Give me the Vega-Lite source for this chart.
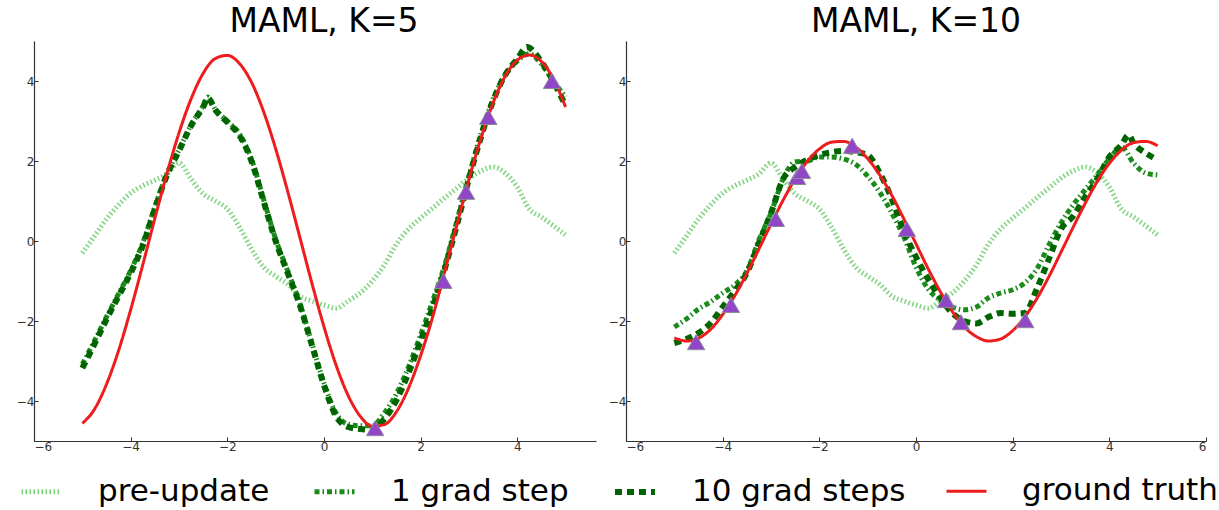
{
  "$schema": "https://vega.github.io/schema/vega-lite/v6.json",
  "background": "white",
  "padding": {"left": 16, "top": 6, "right": 8, "bottom": 2},
  "config": {
    "font": "DejaVu Sans",
    "view": {"stroke": null},
    "axis": {"grid": false, "domainColor": "#333333", "domainWidth": 1.2, "tickColor": "#333333", "labelColor": "#333333", "labelFontSize": 12, "labelFont": "DejaVu Sans", "tickSize": -4, "labelPadding": 4, "title": null},
    "title": {"fontSize": 33, "fontWeight": "normal", "font": "DejaVu Sans", "color": "black", "offset": 2},
    "legend": {"orient": "none", "legendX": -15, "legendY": 428, "direction": "horizontal", "title": null, "labelFontSize": 31, "labelFont": "DejaVu Sans", "labelColor": "black", "labelLimit": 400, "symbolSize": 1600, "labelOffset": 34, "columnPadding": 34}
  },
  "datasets": {
    "curves": [
      {"p":"both","s":"pre-update","x":-5,"y":-0.30},{"p":"both","s":"pre-update","x":-4.75,"y":0.12},{"p":"both","s":"pre-update","x":-4.5,"y":0.55},{"p":"both","s":"pre-update","x":-4.25,"y":0.90},{"p":"both","s":"pre-update","x":-4,"y":1.20},{"p":"both","s":"pre-update","x":-3.75,"y":1.38},{"p":"both","s":"pre-update","x":-3.5,"y":1.52},{"p":"both","s":"pre-update","x":-3.25,"y":1.68},{"p":"both","s":"pre-update","x":-3,"y":1.95},{"p":"both","s":"pre-update","x":-2.75,"y":1.55},{"p":"both","s":"pre-update","x":-2.5,"y":1.18},{"p":"both","s":"pre-update","x":-2.25,"y":1.0},{"p":"both","s":"pre-update","x":-2,"y":0.8},{"p":"both","s":"pre-update","x":-1.75,"y":0.35},{"p":"both","s":"pre-update","x":-1.5,"y":-0.2},{"p":"both","s":"pre-update","x":-1.25,"y":-0.65},{"p":"both","s":"pre-update","x":-1,"y":-0.88},{"p":"both","s":"pre-update","x":-0.75,"y":-1.08},{"p":"both","s":"pre-update","x":-0.5,"y":-1.38},{"p":"both","s":"pre-update","x":-0.25,"y":-1.5},{"p":"both","s":"pre-update","x":0,"y":-1.6},{"p":"both","s":"pre-update","x":0.25,"y":-1.68},{"p":"both","s":"pre-update","x":0.5,"y":-1.5},{"p":"both","s":"pre-update","x":0.75,"y":-1.3},{"p":"both","s":"pre-update","x":1,"y":-1.0},{"p":"both","s":"pre-update","x":1.25,"y":-0.6},{"p":"both","s":"pre-update","x":1.5,"y":-0.08},{"p":"both","s":"pre-update","x":1.75,"y":0.3},{"p":"both","s":"pre-update","x":2,"y":0.57},{"p":"both","s":"pre-update","x":2.25,"y":0.82},{"p":"both","s":"pre-update","x":2.5,"y":1.08},{"p":"both","s":"pre-update","x":2.75,"y":1.32},{"p":"both","s":"pre-update","x":3,"y":1.57},{"p":"both","s":"pre-update","x":3.25,"y":1.75},{"p":"both","s":"pre-update","x":3.5,"y":1.85},{"p":"both","s":"pre-update","x":3.75,"y":1.70},{"p":"both","s":"pre-update","x":4,"y":1.35},{"p":"both","s":"pre-update","x":4.25,"y":0.80},{"p":"both","s":"pre-update","x":4.5,"y":0.60},{"p":"both","s":"pre-update","x":4.75,"y":0.38},{"p":"both","s":"pre-update","x":5,"y":0.15},

      {"p":"K5","s":"1 grad step","x":-5,"y":-3.08},{"p":"K5","s":"1 grad step","x":-4.75,"y":-2.5},{"p":"K5","s":"1 grad step","x":-4.5,"y":-1.9},{"p":"K5","s":"1 grad step","x":-4.25,"y":-1.32},{"p":"K5","s":"1 grad step","x":-4,"y":-0.74},{"p":"K5","s":"1 grad step","x":-3.75,"y":-0.05},{"p":"K5","s":"1 grad step","x":-3.5,"y":0.85},{"p":"K5","s":"1 grad step","x":-3.25,"y":1.68},{"p":"K5","s":"1 grad step","x":-3,"y":2.28},{"p":"K5","s":"1 grad step","x":-2.75,"y":2.9},{"p":"K5","s":"1 grad step","x":-2.5,"y":3.38},{"p":"K5","s":"1 grad step","x":-2.4,"y":3.6},{"p":"K5","s":"1 grad step","x":-2.25,"y":3.3},{"p":"K5","s":"1 grad step","x":-2,"y":3.0},{"p":"K5","s":"1 grad step","x":-1.75,"y":2.68},{"p":"K5","s":"1 grad step","x":-1.5,"y":2.05},{"p":"K5","s":"1 grad step","x":-1.25,"y":1.05},{"p":"K5","s":"1 grad step","x":-1,"y":0.05},{"p":"K5","s":"1 grad step","x":-0.75,"y":-0.75},{"p":"K5","s":"1 grad step","x":-0.5,"y":-1.55},{"p":"K5","s":"1 grad step","x":-0.25,"y":-2.55},{"p":"K5","s":"1 grad step","x":0,"y":-3.55},{"p":"K5","s":"1 grad step","x":0.25,"y":-4.3},{"p":"K5","s":"1 grad step","x":0.5,"y":-4.58},{"p":"K5","s":"1 grad step","x":0.75,"y":-4.62},{"p":"K5","s":"1 grad step","x":1,"y":-4.62},{"p":"K5","s":"1 grad step","x":1.25,"y":-4.3},{"p":"K5","s":"1 grad step","x":1.5,"y":-3.82},{"p":"K5","s":"1 grad step","x":1.75,"y":-3.15},{"p":"K5","s":"1 grad step","x":2,"y":-2.35},{"p":"K5","s":"1 grad step","x":2.25,"y":-1.5},{"p":"K5","s":"1 grad step","x":2.5,"y":-0.6},{"p":"K5","s":"1 grad step","x":2.75,"y":0.5},{"p":"K5","s":"1 grad step","x":3,"y":1.62},{"p":"K5","s":"1 grad step","x":3.25,"y":2.68},{"p":"K5","s":"1 grad step","x":3.5,"y":3.55},{"p":"K5","s":"1 grad step","x":3.75,"y":4.15},{"p":"K5","s":"1 grad step","x":4,"y":4.5},{"p":"K5","s":"1 grad step","x":4.25,"y":4.68},{"p":"K5","s":"1 grad step","x":4.5,"y":4.42},{"p":"K5","s":"1 grad step","x":4.75,"y":4.0},{"p":"K5","s":"1 grad step","x":5,"y":3.6},

      {"p":"K5","s":"10 grad steps","x":-5,"y":-3.18},{"p":"K5","s":"10 grad steps","x":-4.75,"y":-2.58},{"p":"K5","s":"10 grad steps","x":-4.5,"y":-1.96},{"p":"K5","s":"10 grad steps","x":-4.25,"y":-1.38},{"p":"K5","s":"10 grad steps","x":-4,"y":-0.8},{"p":"K5","s":"10 grad steps","x":-3.75,"y":-0.12},{"p":"K5","s":"10 grad steps","x":-3.5,"y":0.8},{"p":"K5","s":"10 grad steps","x":-3.25,"y":1.64},{"p":"K5","s":"10 grad steps","x":-3,"y":2.25},{"p":"K5","s":"10 grad steps","x":-2.75,"y":2.88},{"p":"K5","s":"10 grad steps","x":-2.5,"y":3.35},{"p":"K5","s":"10 grad steps","x":-2.4,"y":3.57},{"p":"K5","s":"10 grad steps","x":-2.25,"y":3.28},{"p":"K5","s":"10 grad steps","x":-2,"y":2.97},{"p":"K5","s":"10 grad steps","x":-1.75,"y":2.64},{"p":"K5","s":"10 grad steps","x":-1.5,"y":2.0},{"p":"K5","s":"10 grad steps","x":-1.25,"y":1.0},{"p":"K5","s":"10 grad steps","x":-1,"y":0.0},{"p":"K5","s":"10 grad steps","x":-0.75,"y":-0.8},{"p":"K5","s":"10 grad steps","x":-0.5,"y":-1.6},{"p":"K5","s":"10 grad steps","x":-0.25,"y":-2.6},{"p":"K5","s":"10 grad steps","x":0,"y":-3.6},{"p":"K5","s":"10 grad steps","x":0.25,"y":-4.38},{"p":"K5","s":"10 grad steps","x":0.5,"y":-4.65},{"p":"K5","s":"10 grad steps","x":0.75,"y":-4.7},{"p":"K5","s":"10 grad steps","x":1,"y":-4.72},{"p":"K5","s":"10 grad steps","x":1.25,"y":-4.45},{"p":"K5","s":"10 grad steps","x":1.5,"y":-3.98},{"p":"K5","s":"10 grad steps","x":1.75,"y":-3.3},{"p":"K5","s":"10 grad steps","x":2,"y":-2.5},{"p":"K5","s":"10 grad steps","x":2.25,"y":-1.65},{"p":"K5","s":"10 grad steps","x":2.5,"y":-0.7},{"p":"K5","s":"10 grad steps","x":2.75,"y":0.4},{"p":"K5","s":"10 grad steps","x":3,"y":1.55},{"p":"K5","s":"10 grad steps","x":3.25,"y":2.6},{"p":"K5","s":"10 grad steps","x":3.5,"y":3.5},{"p":"K5","s":"10 grad steps","x":3.75,"y":4.15},{"p":"K5","s":"10 grad steps","x":4,"y":4.55},{"p":"K5","s":"10 grad steps","x":4.2,"y":4.85},{"p":"K5","s":"10 grad steps","x":4.5,"y":4.48},{"p":"K5","s":"10 grad steps","x":4.75,"y":3.98},{"p":"K5","s":"10 grad steps","x":5,"y":3.38},

      {"p":"K5","s":"ground truth","x":-5,"y":-4.56},{"p":"K5","s":"ground truth","x":-4.75,"y":-4.21},{"p":"K5","s":"ground truth","x":-4.5,"y":-3.58},{"p":"K5","s":"ground truth","x":-4.25,"y":-2.74},{"p":"K5","s":"ground truth","x":-4,"y":-1.72},{"p":"K5","s":"ground truth","x":-3.75,"y":-0.60},{"p":"K5","s":"ground truth","x":-3.5,"y":0.56},{"p":"K5","s":"ground truth","x":-3.25,"y":1.68},{"p":"K5","s":"ground truth","x":-3,"y":2.70},{"p":"K5","s":"ground truth","x":-2.75,"y":3.55},{"p":"K5","s":"ground truth","x":-2.5,"y":4.19},{"p":"K5","s":"ground truth","x":-2.25,"y":4.56},{"p":"K5","s":"ground truth","x":-2,"y":4.64},{"p":"K5","s":"ground truth","x":-1.75,"y":4.44},{"p":"K5","s":"ground truth","x":-1.5,"y":3.97},{"p":"K5","s":"ground truth","x":-1.25,"y":3.24},{"p":"K5","s":"ground truth","x":-1,"y":2.31},{"p":"K5","s":"ground truth","x":-0.75,"y":1.24},{"p":"K5","s":"ground truth","x":-0.5,"y":0.10},{"p":"K5","s":"ground truth","x":-0.25,"y":-1.05},{"p":"K5","s":"ground truth","x":0,"y":-2.14},{"p":"K5","s":"ground truth","x":0.25,"y":-3.10},{"p":"K5","s":"ground truth","x":0.5,"y":-3.86},{"p":"K5","s":"ground truth","x":0.75,"y":-4.38},{"p":"K5","s":"ground truth","x":1,"y":-4.63},{"p":"K5","s":"ground truth","x":1.25,"y":-4.59},{"p":"K5","s":"ground truth","x":1.5,"y":-4.27},{"p":"K5","s":"ground truth","x":1.75,"y":-3.68},{"p":"K5","s":"ground truth","x":2,"y":-2.87},{"p":"K5","s":"ground truth","x":2.25,"y":-1.90},{"p":"K5","s":"ground truth","x":2.5,"y":-0.76},{"p":"K5","s":"ground truth","x":2.75,"y":0.40},{"p":"K5","s":"ground truth","x":3,"y":1.54},{"p":"K5","s":"ground truth","x":3.25,"y":2.57},{"p":"K5","s":"ground truth","x":3.5,"y":3.45},{"p":"K5","s":"ground truth","x":3.75,"y":4.12},{"p":"K5","s":"ground truth","x":4,"y":4.52},{"p":"K5","s":"ground truth","x":4.25,"y":4.65},{"p":"K5","s":"ground truth","x":4.5,"y":4.49},{"p":"K5","s":"ground truth","x":4.75,"y":4.05},{"p":"K5","s":"ground truth","x":5,"y":3.35},

      {"p":"K10","s":"1 grad step","x":-5,"y":-2.15},{"p":"K10","s":"1 grad step","x":-4.75,"y":-1.95},{"p":"K10","s":"1 grad step","x":-4.5,"y":-1.70},{"p":"K10","s":"1 grad step","x":-4.25,"y":-1.52},{"p":"K10","s":"1 grad step","x":-4,"y":-1.30},{"p":"K10","s":"1 grad step","x":-3.75,"y":-1.10},{"p":"K10","s":"1 grad step","x":-3.5,"y":-0.75},{"p":"K10","s":"1 grad step","x":-3.25,"y":0.03},{"p":"K10","s":"1 grad step","x":-3,"y":0.70},{"p":"K10","s":"1 grad step","x":-2.75,"y":1.55},{"p":"K10","s":"1 grad step","x":-2.5,"y":1.98},{"p":"K10","s":"1 grad step","x":-2.25,"y":2.0},{"p":"K10","s":"1 grad step","x":-2,"y":2.1},{"p":"K10","s":"1 grad step","x":-1.75,"y":2.1},{"p":"K10","s":"1 grad step","x":-1.5,"y":2.05},{"p":"K10","s":"1 grad step","x":-1.25,"y":1.92},{"p":"K10","s":"1 grad step","x":-1,"y":1.62},{"p":"K10","s":"1 grad step","x":-0.75,"y":1.22},{"p":"K10","s":"1 grad step","x":-0.5,"y":0.70},{"p":"K10","s":"1 grad step","x":-0.25,"y":0.10},{"p":"K10","s":"1 grad step","x":0,"y":-0.65},{"p":"K10","s":"1 grad step","x":0.25,"y":-1.2},{"p":"K10","s":"1 grad step","x":0.5,"y":-1.48},{"p":"K10","s":"1 grad step","x":0.75,"y":-1.65},{"p":"K10","s":"1 grad step","x":1,"y":-1.72},{"p":"K10","s":"1 grad step","x":1.25,"y":-1.65},{"p":"K10","s":"1 grad step","x":1.5,"y":-1.42},{"p":"K10","s":"1 grad step","x":1.75,"y":-1.30},{"p":"K10","s":"1 grad step","x":2,"y":-1.22},{"p":"K10","s":"1 grad step","x":2.25,"y":-1.05},{"p":"K10","s":"1 grad step","x":2.5,"y":-0.70},{"p":"K10","s":"1 grad step","x":2.75,"y":-0.10},{"p":"K10","s":"1 grad step","x":3,"y":0.45},{"p":"K10","s":"1 grad step","x":3.25,"y":0.90},{"p":"K10","s":"1 grad step","x":3.5,"y":1.28},{"p":"K10","s":"1 grad step","x":3.75,"y":1.65},{"p":"K10","s":"1 grad step","x":4,"y":2.05},{"p":"K10","s":"1 grad step","x":4.25,"y":2.35},{"p":"K10","s":"1 grad step","x":4.5,"y":1.95},{"p":"K10","s":"1 grad step","x":4.75,"y":1.70},{"p":"K10","s":"1 grad step","x":5,"y":1.65},

      {"p":"K10","s":"10 grad steps","x":-5,"y":-2.55},{"p":"K10","s":"10 grad steps","x":-4.75,"y":-2.45},{"p":"K10","s":"10 grad steps","x":-4.5,"y":-2.30},{"p":"K10","s":"10 grad steps","x":-4.25,"y":-2.05},{"p":"K10","s":"10 grad steps","x":-4,"y":-1.65},{"p":"K10","s":"10 grad steps","x":-3.75,"y":-1.25},{"p":"K10","s":"10 grad steps","x":-3.5,"y":-0.80},{"p":"K10","s":"10 grad steps","x":-3.25,"y":-0.05},{"p":"K10","s":"10 grad steps","x":-3,"y":0.70},{"p":"K10","s":"10 grad steps","x":-2.75,"y":1.55},{"p":"K10","s":"10 grad steps","x":-2.5,"y":1.85},{"p":"K10","s":"10 grad steps","x":-2.25,"y":2.03},{"p":"K10","s":"10 grad steps","x":-2,"y":2.15},{"p":"K10","s":"10 grad steps","x":-1.75,"y":2.22},{"p":"K10","s":"10 grad steps","x":-1.5,"y":2.25},{"p":"K10","s":"10 grad steps","x":-1.25,"y":2.22},{"p":"K10","s":"10 grad steps","x":-1,"y":2.15},{"p":"K10","s":"10 grad steps","x":-0.75,"y":1.70},{"p":"K10","s":"10 grad steps","x":-0.5,"y":1.05},{"p":"K10","s":"10 grad steps","x":-0.25,"y":0.25},{"p":"K10","s":"10 grad steps","x":0,"y":-0.40},{"p":"K10","s":"10 grad steps","x":0.25,"y":-0.95},{"p":"K10","s":"10 grad steps","x":0.5,"y":-1.42},{"p":"K10","s":"10 grad steps","x":0.75,"y":-1.80},{"p":"K10","s":"10 grad steps","x":1,"y":-2.00},{"p":"K10","s":"10 grad steps","x":1.25,"y":-2.06},{"p":"K10","s":"10 grad steps","x":1.5,"y":-1.90},{"p":"K10","s":"10 grad steps","x":1.75,"y":-1.80},{"p":"K10","s":"10 grad steps","x":2,"y":-1.82},{"p":"K10","s":"10 grad steps","x":2.25,"y":-1.80},{"p":"K10","s":"10 grad steps","x":2.5,"y":-1.20},{"p":"K10","s":"10 grad steps","x":2.75,"y":-0.45},{"p":"K10","s":"10 grad steps","x":3,"y":0.30},{"p":"K10","s":"10 grad steps","x":3.25,"y":0.62},{"p":"K10","s":"10 grad steps","x":3.5,"y":1.10},{"p":"K10","s":"10 grad steps","x":3.75,"y":1.55},{"p":"K10","s":"10 grad steps","x":4,"y":2.10},{"p":"K10","s":"10 grad steps","x":4.25,"y":2.40},{"p":"K10","s":"10 grad steps","x":4.4,"y":2.65},{"p":"K10","s":"10 grad steps","x":4.5,"y":2.45},{"p":"K10","s":"10 grad steps","x":4.75,"y":2.20},{"p":"K10","s":"10 grad steps","x":5,"y":2.03},

      {"p":"K10","s":"ground truth","x":-5,"y":-2.42},{"p":"K10","s":"ground truth","x":-4.75,"y":-2.50},{"p":"K10","s":"ground truth","x":-4.5,"y":-2.43},{"p":"K10","s":"ground truth","x":-4.25,"y":-2.21},{"p":"K10","s":"ground truth","x":-4,"y":-1.84},{"p":"K10","s":"ground truth","x":-3.75,"y":-1.37},{"p":"K10","s":"ground truth","x":-3.5,"y":-0.81},{"p":"K10","s":"ground truth","x":-3.25,"y":-0.20},{"p":"K10","s":"ground truth","x":-3,"y":0.42},{"p":"K10","s":"ground truth","x":-2.75,"y":1.02},{"p":"K10","s":"ground truth","x":-2.5,"y":1.55},{"p":"K10","s":"ground truth","x":-2.25,"y":1.99},{"p":"K10","s":"ground truth","x":-2,"y":2.30},{"p":"K10","s":"ground truth","x":-1.75,"y":2.47},{"p":"K10","s":"ground truth","x":-1.5,"y":2.49},{"p":"K10","s":"ground truth","x":-1.25,"y":2.35},{"p":"K10","s":"ground truth","x":-1,"y":2.06},{"p":"K10","s":"ground truth","x":-0.75,"y":1.65},{"p":"K10","s":"ground truth","x":-0.5,"y":1.14},{"p":"K10","s":"ground truth","x":-0.25,"y":0.55},{"p":"K10","s":"ground truth","x":0,"y":-0.07},{"p":"K10","s":"ground truth","x":0.25,"y":-0.69},{"p":"K10","s":"ground truth","x":0.5,"y":-1.26},{"p":"K10","s":"ground truth","x":0.75,"y":-1.76},{"p":"K10","s":"ground truth","x":1,"y":-2.15},{"p":"K10","s":"ground truth","x":1.25,"y":-2.39},{"p":"K10","s":"ground truth","x":1.5,"y":-2.50},{"p":"K10","s":"ground truth","x":1.75,"y":-2.45},{"p":"K10","s":"ground truth","x":2,"y":-2.24},{"p":"K10","s":"ground truth","x":2.25,"y":-1.90},{"p":"K10","s":"ground truth","x":2.5,"y":-1.44},{"p":"K10","s":"ground truth","x":2.75,"y":-0.89},{"p":"K10","s":"ground truth","x":3,"y":-0.28},{"p":"K10","s":"ground truth","x":3.25,"y":0.34},{"p":"K10","s":"ground truth","x":3.5,"y":0.94},{"p":"K10","s":"ground truth","x":3.75,"y":1.49},{"p":"K10","s":"ground truth","x":4,"y":1.94},{"p":"K10","s":"ground truth","x":4.25,"y":2.27},{"p":"K10","s":"ground truth","x":4.5,"y":2.46},{"p":"K10","s":"ground truth","x":4.75,"y":2.49},{"p":"K10","s":"ground truth","x":5,"y":2.38}
    ],
    "pts": [
      {"p":"K5","x":1.06,"y":-4.68},{"p":"K5","x":2.47,"y":-1.0},{"p":"K5","x":2.94,"y":1.23},{"p":"K5","x":3.4,"y":3.1},{"p":"K5","x":4.72,"y":4.0},
      {"p":"K10","x":-4.55,"y":-2.53},{"p":"K10","x":-3.83,"y":-1.6},{"p":"K10","x":-2.9,"y":0.55},{"p":"K10","x":-2.46,"y":1.6},{"p":"K10","x":-2.36,"y":1.75},{"p":"K10","x":-1.32,"y":2.38},{"p":"K10","x":-0.19,"y":0.3},{"p":"K10","x":0.62,"y":-1.48},{"p":"K10","x":0.93,"y":-2.03},{"p":"K10","x":2.26,"y":-1.98}
    ]
  },
  "resolve": {"scale": {"x": "independent", "y": "independent", "color": "shared", "strokeDash": "shared", "strokeWidth": "shared"}},
  "spacing": 12,
  "hconcat": [
    {
      "width": 562, "height": 400,
      "title": {"text": "MAML, K=5", "dx": 9},
      "layer": [
        {
          "data": {"name": "curves"},
          "transform": [{"filter": "datum.p == 'K5' || datum.p == 'both'"}],
          "mark": {"type": "line", "interpolate": "monotone", "clip": true},
          "encoding": {
            "x": {"field": "x", "type": "quantitative", "scale": {"domain": [-6, 5.63], "nice": false, "zero": false}, "axis": {"values": [-6, -4, -2, 0, 2, 4], "format": "d"}},
            "y": {"field": "y", "type": "quantitative", "scale": {"domain": [-5, 5], "nice": false, "zero": false}, "axis": {"values": [-4, -2, 0, 2, 4], "format": "d"}},
            "color": {"field": "s", "type": "nominal", "scale": {"domain": ["pre-update", "1 grad step", "10 grad steps", "ground truth"], "range": ["#7fd47f", "#1a8a1a", "#006400", "#ee1c1c"]}},
            "strokeDash": {"field": "s", "type": "nominal", "scale": {"domain": ["pre-update", "1 grad step", "10 grad steps", "ground truth"], "range": [[1.5, 2.5], [5, 3, 1.5, 3], [7, 5], [1, 0]]}},
            "strokeWidth": {"field": "s", "type": "nominal", "scale": {"type": "ordinal", "domain": ["pre-update", "1 grad step", "10 grad steps", "ground truth"], "range": [5, 5, 6, 3]}}
          }
        },
        {
          "data": {"name": "pts"},
          "transform": [{"filter": "datum.p == 'K5'"}],
          "mark": {"type": "point", "shape": "triangle-up", "filled": true, "size": 300, "color": "#9146c8", "stroke": "#8a8a9a", "strokeWidth": 1, "opacity": 1},
          "encoding": {
            "x": {"field": "x", "type": "quantitative"},
            "y": {"field": "y", "type": "quantitative"}
          }
        }
      ]
    },
    {
      "width": 580, "height": 400,
      "title": {"text": "MAML, K=10"},
      "layer": [
        {
          "data": {"name": "curves"},
          "transform": [{"filter": "datum.p == 'K10' || datum.p == 'both'"}],
          "mark": {"type": "line", "interpolate": "monotone", "clip": true},
          "encoding": {
            "x": {"field": "x", "type": "quantitative", "scale": {"domain": [-6, 6], "nice": false, "zero": false}, "axis": {"values": [-6, -4, -2, 0, 2, 4, 6], "format": "d"}},
            "y": {"field": "y", "type": "quantitative", "scale": {"domain": [-5, 5], "nice": false, "zero": false}, "axis": {"values": [-4, -2, 0, 2, 4], "format": "d"}},
            "color": {"field": "s", "type": "nominal", "scale": {"domain": ["pre-update", "1 grad step", "10 grad steps", "ground truth"], "range": ["#7fd47f", "#1a8a1a", "#006400", "#ee1c1c"]}},
            "strokeDash": {"field": "s", "type": "nominal", "scale": {"domain": ["pre-update", "1 grad step", "10 grad steps", "ground truth"], "range": [[1.5, 2.5], [5, 3, 1.5, 3], [7, 5], [1, 0]]}},
            "strokeWidth": {"field": "s", "type": "nominal", "scale": {"type": "ordinal", "domain": ["pre-update", "1 grad step", "10 grad steps", "ground truth"], "range": [5, 5, 6, 3]}}
          }
        },
        {
          "data": {"name": "pts"},
          "transform": [{"filter": "datum.p == 'K10'"}],
          "mark": {"type": "point", "shape": "triangle-up", "filled": true, "size": 300, "color": "#9146c8", "stroke": "#8a8a9a", "strokeWidth": 1, "opacity": 1},
          "encoding": {
            "x": {"field": "x", "type": "quantitative"},
            "y": {"field": "y", "type": "quantitative"}
          }
        }
      ]
    }
  ]
}
